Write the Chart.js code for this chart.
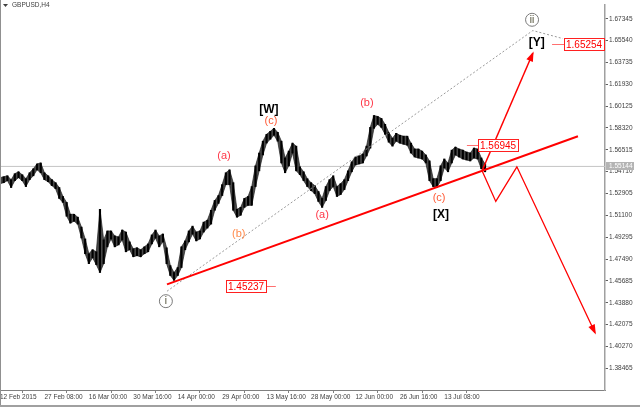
<!DOCTYPE html>
<html>
<head>
<meta charset="utf-8">
<script src="https://cdn.jsdelivr.net/npm/chart.js@4.4.1/dist/chart.umd.min.js"></script>
<style>
  html, body { margin: 0; padding: 0; background: #fff; }
  #wrap { width: 640px; height: 405px; border-bottom: 2px solid #a0a0a0; }
</style>
</head>
<body>
<div id="wrap"><canvas id="chart" width="640" height="405"></canvas></div>
<script>
// GBPUSD H4, one sample every 12th of a date label step
const dateLabels = ["12 Feb 2015", "27 Feb 08:00", "16 Mar 00:00", "30 Mar 16:00", "14 Apr 00:00", "29 Apr 00:00",
    "13 May 16:00", "28 May 00:00", "12 Jun 00:00", "26 Jun 16:00", "13 Jul 08:00"];
const priceTicks = [1.67345, 1.65540, 1.63735, 1.61930, 1.60125, 1.58320, 1.56515, 1.54710, 1.52905,
    1.51100, 1.49295, 1.47490, 1.45685, 1.43880, 1.42075, 1.40270, 1.38465];

const barHigh = [
    1.5421, 1.5429, 1.5437, 1.5405, 1.5454, 1.5470, 1.5446, 1.5413, 1.5462, 1.5495,
    1.5535, 1.5543, 1.5462, 1.5437, 1.5405, 1.5380, 1.5340, 1.5266, 1.5217, 1.5119,
    1.5119, 1.5095, 1.5013, 1.4915, 1.4793, 1.4826, 1.4809, 1.5160, 1.4907, 1.4981,
    1.4981, 1.4940, 1.4932, 1.4989, 1.4972, 1.4891, 1.4834, 1.4842, 1.4826, 1.4850,
    1.4874, 1.4948, 1.4989, 1.4940, 1.4956, 1.4842, 1.4695, 1.4638, 1.4679, 1.4850,
    1.4899, 1.4981, 1.5021, 1.4972, 1.4981, 1.5054, 1.5070, 1.5152, 1.5233, 1.5274,
    1.5364, 1.5462, 1.5486, 1.5380, 1.5160, 1.5176, 1.5250, 1.5266, 1.5348, 1.5519,
    1.5625, 1.5723, 1.5780, 1.5804, 1.5829, 1.5796, 1.5723, 1.5584, 1.5641, 1.5707,
    1.5682, 1.5511, 1.5470, 1.5413, 1.5380, 1.5356, 1.5307, 1.5250, 1.5348, 1.5405,
    1.5437, 1.5348, 1.5372, 1.5405, 1.5478, 1.5552, 1.5592, 1.5601, 1.5617, 1.5682,
    1.5837, 1.5935, 1.5927, 1.5911, 1.5862, 1.5796, 1.5747, 1.5788, 1.5772, 1.5764,
    1.5764, 1.5707, 1.5658, 1.5658, 1.5641, 1.5609, 1.5560, 1.5413, 1.5413, 1.5519,
    1.5576, 1.5543, 1.5649, 1.5674, 1.5658, 1.5649, 1.5633, 1.5625, 1.5666, 1.5658,
    1.5584, 1.5535
];
const barLow = [
    1.5372, 1.5380, 1.5397, 1.5340, 1.5397, 1.5421, 1.5397, 1.5348, 1.5405, 1.5437,
    1.5486, 1.5462, 1.5405, 1.5388, 1.5356, 1.5331, 1.5250, 1.5217, 1.5103, 1.5046,
    1.5062, 1.5038, 1.4923, 1.4793, 1.4711, 1.4760, 1.4703, 1.4638, 1.4711, 1.4850,
    1.4915, 1.4850, 1.4866, 1.4907, 1.4809, 1.4826, 1.4768, 1.4777, 1.4768, 1.4793,
    1.4809, 1.4874, 1.4923, 1.4850, 1.4891, 1.4711, 1.4613, 1.4573, 1.4613, 1.4679,
    1.4826, 1.4891, 1.4956, 1.4899, 1.4915, 1.4972, 1.5005, 1.5038, 1.5152, 1.5209,
    1.5274, 1.5364, 1.5364, 1.5152, 1.5095, 1.5111, 1.5176, 1.5193, 1.5193, 1.5348,
    1.5478, 1.5609, 1.5707, 1.5739, 1.5772, 1.5723, 1.5543, 1.5462, 1.5519, 1.5625,
    1.5478, 1.5446, 1.5397, 1.5348, 1.5315, 1.5290, 1.5225, 1.5176, 1.5233, 1.5315,
    1.5348, 1.5266, 1.5282, 1.5323, 1.5397, 1.5470, 1.5527, 1.5535, 1.5543, 1.5601,
    1.5666, 1.5829, 1.5862, 1.5837, 1.5780, 1.5715, 1.5682, 1.5723, 1.5707, 1.5698,
    1.5690, 1.5625, 1.5592, 1.5584, 1.5576, 1.5543, 1.5397, 1.5348, 1.5340, 1.5397,
    1.5503, 1.5470, 1.5543, 1.5609, 1.5592, 1.5576, 1.5568, 1.5560, 1.5584, 1.5576,
    1.5495, 1.5470
];
const lastPrice = 1.55144;

// drawn objects, in (bar, price)
const trendLine = [{x: 45.1, y: 1.4540}, {x: 156.1, y: 1.5764}];
const channelLine = [{x: 45.1, y: 1.4483}, {x: 143.9, y: 1.6637}, {x: 152.0, y: 1.6571}];
const bullPath = [{x: 130.2, y: 1.5478}, {x: 143.9, y: 1.6449}];
const bearPath = [{x: 130.2, y: 1.5478}, {x: 133.9, y: 1.5225}, {x: 139.6, y: 1.5511}, {x: 160.7, y: 1.4140}];

const priceMarks = [
    {text: "1.56945", price: 1.56945, x: 129.1, lineX: 126.1},
    {text: "1.45237", price: 1.45237, x: 61.0, lineX: 74.5},
    {text: "1.65254", price: 1.65254, x: 152.3, lineX: 149.1}
];
const waveLabels = [
    {text: "(a)", x: 60.5, y: 1.5601, color: "#ff3848"},
    {text: "(b)", x: 64.5, y: 1.4956, color: "#ff8a4c"},
    {text: "(c)", x: 73.2, y: 1.5886, color: "#ff5a36"},
    {text: "[W]", x: 72.6, y: 1.5984, color: "#000", bold: true},
    {text: "(a)", x: 87.0, y: 1.5111, color: "#ff3848"},
    {text: "(b)", x: 99.1, y: 1.6041, color: "#ff3848"},
    {text: "(c)", x: 118.6, y: 1.5250, color: "#ff5a36"},
    {text: "[X]", x: 119.1, y: 1.5119, color: "#000", bold: true},
    {text: "[Y]", x: 145.0, y: 1.6539, color: "#000", bold: true}
];
const circleLabels = [
    {text: "i", x: 44.8, y: 1.4401},
    {text: "ii", x: 143.7, y: 1.6726}
];

const xMax = 163.4;
const yMin = 1.3667;
const yMax = 1.6849;

Chart.defaults.font.family = "'Liberation Sans', Arial, sans-serif";

const overlay = {
    id: "overlay",
    afterDatasetsDraw(chart) {
        const {ctx, scales: {x, y}} = chart;
        ctx.save();

        // arrow heads
        ctx.fillStyle = "#ff0000";
        [bullPath, bearPath].forEach(path => {
            const a = path[path.length - 2], b = path[path.length - 1];
            const x1 = x.getPixelForValue(a.x), y1 = y.getPixelForValue(a.y);
            const x2 = x.getPixelForValue(b.x), y2 = y.getPixelForValue(b.y);
            const ang = Math.atan2(y2 - y1, x2 - x1);
            const c = Math.cos(ang), s = Math.sin(ang);
            ctx.beginPath();
            ctx.moveTo(x2 + 2 * c, y2 + 2 * s);
            ctx.lineTo(x2 - 8 * c + 3.5 * s, y2 - 8 * s - 3.5 * c);
            ctx.lineTo(x2 - 8 * c - 3.5 * s, y2 - 8 * s + 3.5 * c);
            ctx.closePath();
            ctx.fill();
        });

        // price boxes
        ctx.font = "10px 'Liberation Sans', Arial";
        ctx.textBaseline = "middle";
        ctx.textAlign = "left";
        priceMarks.forEach(m => {
            const left = Math.round(x.getPixelForValue(m.x));
            const py = Math.round(y.getPixelForValue(m.price)) + 0.5;
            const w = Math.round(ctx.measureText(m.text).width) + 4, h = 12;
            const lx = x.getPixelForValue(m.lineX);
            ctx.strokeStyle = "#ff7070";
            ctx.lineWidth = 1;
            ctx.beginPath();
            ctx.moveTo(lx, py);
            ctx.lineTo(lx < left ? left : left + w, py);
            ctx.stroke();
            ctx.fillStyle = "#fff";
            ctx.fillRect(left, py - h / 2, w, h);
            ctx.strokeStyle = "#ff2020";
            ctx.strokeRect(left + 0.5, py - h / 2, w, h);
            ctx.fillStyle = "#ff0000";
            ctx.fillText(m.text, left + 2, py + 0.5);
        });

        // wave labels
        ctx.textAlign = "center";
        waveLabels.forEach(l => {
            ctx.font = l.bold ? "bold 12px 'Liberation Sans', Arial" : "11px 'Liberation Sans', Arial";
            ctx.fillStyle = l.color;
            ctx.fillText(l.text, x.getPixelForValue(l.x), y.getPixelForValue(l.y));
        });

        // circled degree marks
        circleLabels.forEach(l => {
            const cx = x.getPixelForValue(l.x), cy = y.getPixelForValue(l.y);
            ctx.fillStyle = "#fff";
            ctx.strokeStyle = "#7a7a7a";
            ctx.lineWidth = 1;
            ctx.beginPath();
            ctx.arc(cx, cy, 6.5, 0, Math.PI * 2);
            ctx.fill();
            ctx.stroke();
            ctx.font = "10px 'Liberation Sans', Arial";
            ctx.fillStyle = "#4a4a30";
            ctx.fillText(l.text, cx, cy + 0.5);
        });
        ctx.restore();
    },
    afterDraw(chart) {
        const {ctx, scales: {y}, chartArea} = chart;
        ctx.save();
        // left frame
        ctx.strokeStyle = "#909090";
        ctx.lineWidth = 1;
        ctx.beginPath();
        ctx.moveTo(0.5, 0);
        ctx.lineTo(0.5, chart.height);
        ctx.stroke();

        // symbol caption
        ctx.fillStyle = "#404040";
        ctx.beginPath();
        ctx.moveTo(3, 4);
        ctx.lineTo(8, 4);
        ctx.lineTo(5.5, 7);
        ctx.closePath();
        ctx.fill();
        ctx.font = "6.5px 'Liberation Sans', Arial";
        ctx.textBaseline = "middle";
        ctx.textAlign = "left";
        ctx.fillText("GBPUSD,H4", 12, 5.5);

        // last price tag on the axis
        const py = Math.round(y.getPixelForValue(lastPrice));
        ctx.fillStyle = "#b4b4b4";
        ctx.fillRect(chartArea.right + 1, py - 4, 28, 8);
        ctx.fillStyle = "#fff";
        ctx.fillText(lastPrice.toFixed(5), chartArea.right + 4, py);
        ctx.restore();
    }
};

new Chart(document.getElementById("chart"), {
    type: "bar",
    data: {
        datasets: [
            {
                type: "line",
                data: trendLine,
                borderColor: "#ff0000",
                borderWidth: 2,
                pointRadius: 0
            },
            {
                type: "line",
                data: bullPath,
                borderColor: "#ff0000",
                borderWidth: 1.5,
                pointRadius: 0
            },
            {
                type: "line",
                data: bearPath,
                borderColor: "#ff0000",
                borderWidth: 1.3,
                pointRadius: 0
            },
            {
                type: "line",
                data: channelLine,
                borderColor: "#9a9a9a",
                borderWidth: 1,
                borderDash: [2, 2],
                pointRadius: 0
            },
            {
                type: "bar",
                data: barHigh.map((h, i) => ({x: i, y: [barLow[i], h]})),
                backgroundColor: "#000",
                barThickness: 1.5,
                grouped: false
            },
            {
                type: "line",
                data: barHigh.map((v, i) => ({x: i, y: v})),
                borderColor: "#202020",
                borderWidth: 0.7,
                pointRadius: 0
            },
            {
                type: "line",
                data: barLow.map((v, i) => ({x: i, y: v})),
                borderColor: "#202020",
                borderWidth: 0.7,
                pointRadius: 0,
                fill: {target: "-1"},
                backgroundColor: "#4a4a4a"
            },
            {
                type: "line",
                data: [{x: 0, y: lastPrice}, {x: xMax, y: lastPrice}],
                borderColor: "#c4c4c4",
                borderWidth: 1,
                pointRadius: 0
            }
        ]
    },
    options: {
        responsive: false,
        animation: false,
        layout: {padding: 0},
        plugins: {legend: {display: false}, tooltip: {enabled: false}, filler: {propagate: false}},
        scales: {
            x: {
                type: "linear",
                min: 0,
                max: xMax,
                offset: false,
                afterBuildTicks: s => { s.ticks = dateLabels.map((d, i) => ({value: i * 12})); },
                afterFit: s => { s.height = 15; },
                grid: {drawOnChartArea: false, drawTicks: true, tickLength: 3, color: "#808080"},
                border: {color: "#808080"},
                ticks: {
                    align: "start",
                    autoSkip: false,
                    maxRotation: 0,
                    padding: 0,
                    color: "#404040",
                    font: {size: 6.5},
                    callback: (v, i) => dateLabels[i]
                }
            },
            y: {
                position: "right",
                min: yMin,
                max: yMax,
                afterBuildTicks: s => { s.ticks = priceTicks.map(v => ({value: v})); },
                afterFit: s => { s.width = 35; },
                grid: {drawOnChartArea: false, drawTicks: true, tickLength: 3, color: "#606060"},
                border: {color: "#a0a0a0", width: 1.5},
                ticks: {
                    padding: 1,
                    color: "#404040",
                    font: {size: 6.5},
                    callback: v => v.toFixed(5)
                }
            }
        }
    },
    plugins: [overlay]
});
</script>
</body>
</html>
